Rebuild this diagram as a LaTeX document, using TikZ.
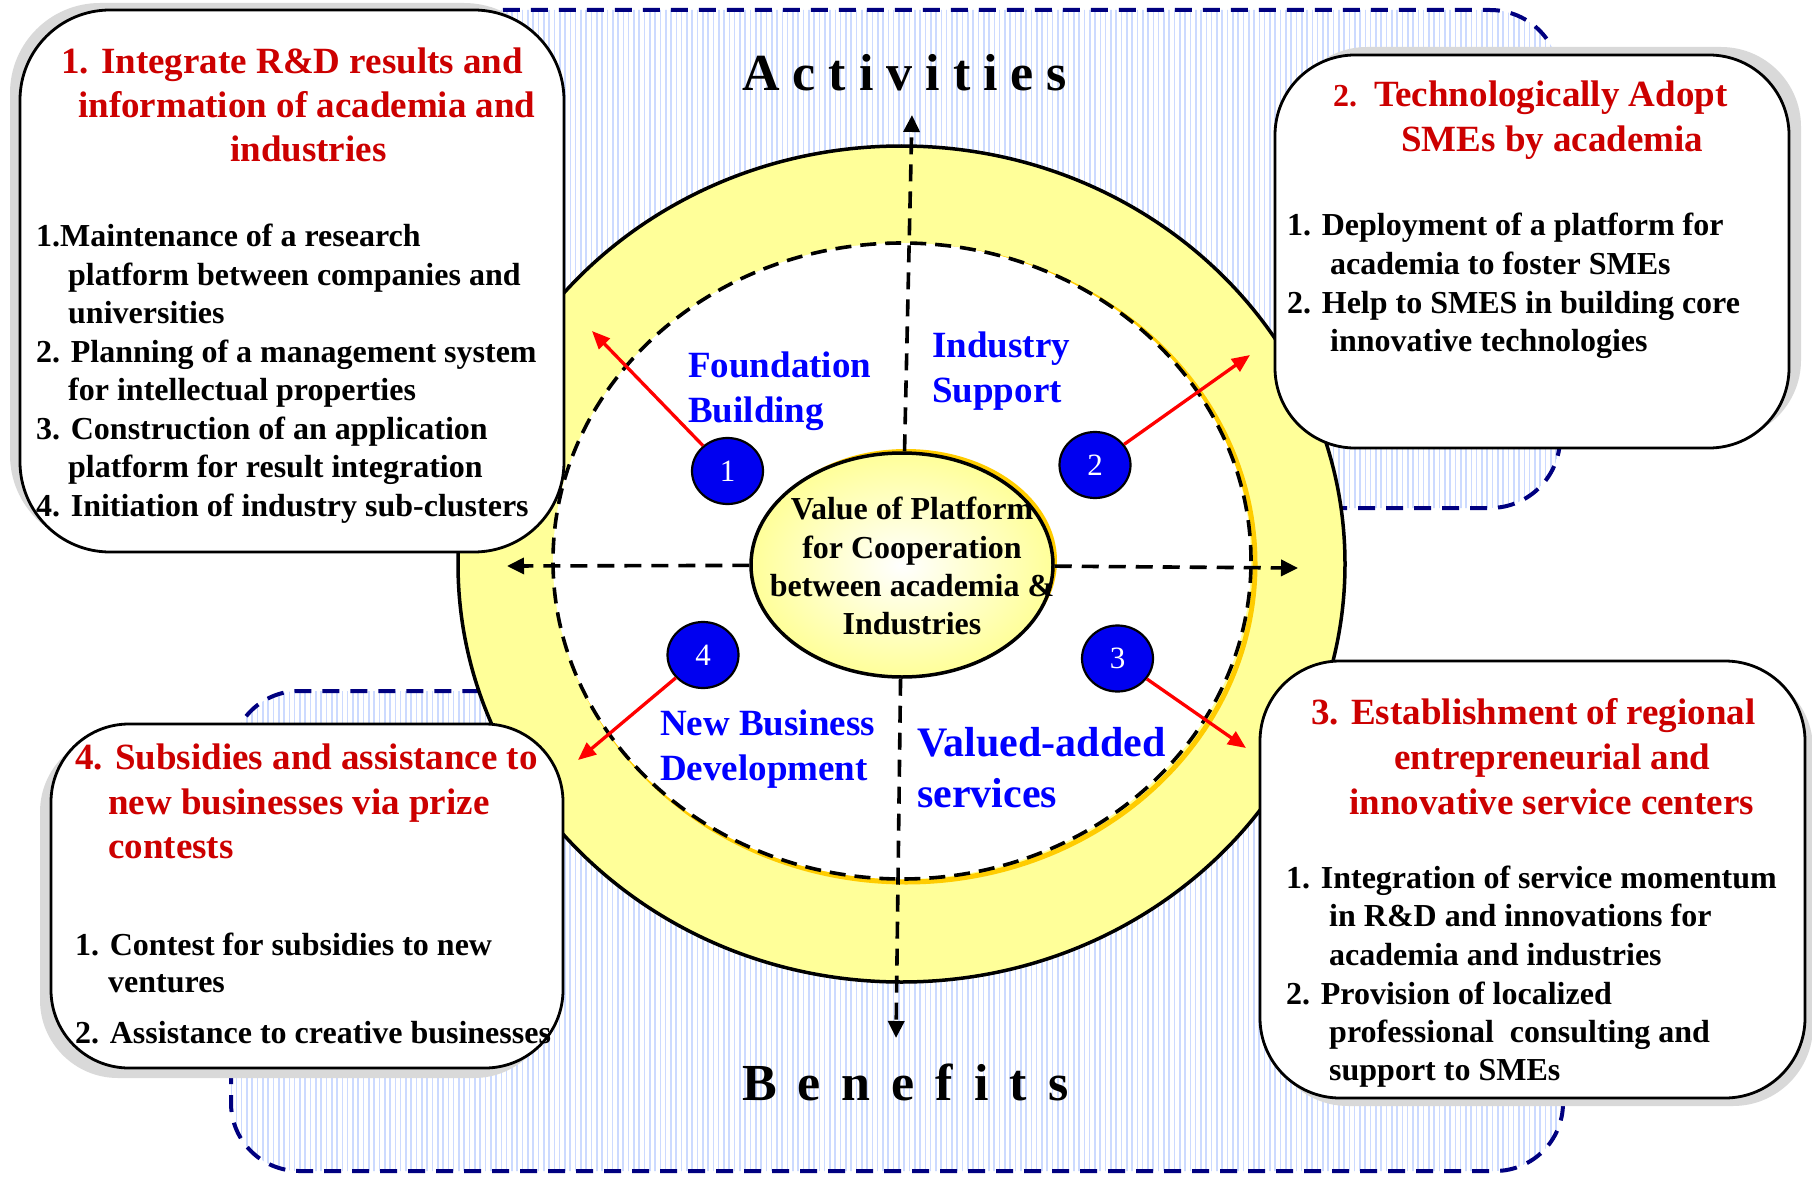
\documentclass[tikz,border=0pt]{standalone}
\usepackage{fontspec}
\setmainfont{Liberation Serif}
\usetikzlibrary{shapes.geometric,arrows.meta}
\definecolor{ringyellow}{RGB}{255,255,153}
\definecolor{goldc}{RGB}{255,204,0}
\definecolor{navyd}{RGB}{0,0,128}
\definecolor{stripec}{RGB}{204,218,255}
\definecolor{titlered}{RGB}{204,0,0}
\definecolor{lblblue}{RGB}{0,0,255}
\definecolor{numblue}{RGB}{0,0,240}
\definecolor{shadowgrey}{RGB}{217,217,217}
\begin{document}
\begin{tikzpicture}[x=1pt,y=-1pt,
  txt/.style={inner sep=0pt, anchor=base west},
  titlef/.style={txt, text=titlered, font=\fontsize{37}{44}\selectfont\bfseries},
  bodyf/.style={txt, font=\fontsize{32}{38.6}\selectfont\bfseries},
  lbl/.style={txt, text=lblblue, font=\fontsize{37}{44}\selectfont\bfseries},
  lblbig/.style={txt, text=lblblue, font=\fontsize{42}{50}\selectfont\bfseries},
  ctext/.style={inner sep=0pt, anchor=base, font=\fontsize{32}{38}\selectfont\bfseries},
  axtitle/.style={txt, font=\fontsize{52}{60}\selectfont\bfseries},
  box/.style={draw, line width=2.8pt, fill=white, inner sep=0pt},
  shadowbox/.style={fill=shadowgrey},
  navyline/.style={navyd, line width=4pt, dash pattern=on 17pt off 11pt},
  stripeline/.style={stripec, line width=1.6pt},
  numc/.style={ellipse, draw, line width=2.2pt, fill=numblue, minimum width=71pt, minimum height=66pt, inner sep=0pt, text=white, font=\fontsize{31}{31}\selectfont},
  redarr/.style={red, line width=3.3pt, -{Triangle[length=18pt,width=15pt]}},
  axisl/.style={black, line width=3.6pt, dash pattern=on 17pt off 10pt, -{Triangle[length=17pt,width=16pt]}}
]
\useasboundingbox (0,0) rectangle (1812,1177);
\fill[white] (0,0) rectangle (1812,1177);

% striped background regions
\begin{scope}
  \clip[rounded corners=70pt] (300,10) rectangle (1560,508);
  \foreach \k in {0,...,240} {\draw[stripeline] ({300+5.3*\k},0) -- ++(0,520);}
\end{scope}
\draw[navyline, rounded corners=70pt] (300,10) rectangle (1560,508);
\begin{scope}
  \clip[rounded corners=68pt] (231,691) rectangle (1563,1171);
  \foreach \k in {0,...,252} {\draw[stripeline] ({231+5.3*\k},680) -- ++(0,500);}
\end{scope}
\draw[navyline, rounded corners=68pt] (231,691) rectangle (1563,1171);

% outer ring
\node[ellipse, draw, line width=3.5pt, fill=ringyellow, minimum width=887pt, minimum height=836pt, inner sep=0pt] (ring) at (901.5,564) {};
% inner dashed circle with gold edge
\draw[goldc, line width=5pt] (906,564) ellipse [x radius=349, y radius=318];
\node[ellipse, fill=white, draw, line width=3.6pt, dash pattern=on 16pt off 9pt, minimum width=698pt, minimum height=636pt, inner sep=0pt] (inner) at (902,561) {};

% centre ellipse
\fill[goldc] (906,561) ellipse [x radius=151, y radius=112];
\node[ellipse, draw, line width=3.5pt, inner color=white, outer color=ringyellow, minimum width=302pt, minimum height=224pt, inner sep=0pt] (cv) at (902,565) {};

% axes
\coordinate (tN) at (912,115);
\coordinate (tS) at (896,1038);
\coordinate (tW) at (507,566);
\coordinate (tE) at (1298,568);
\draw[axisl] (cv) -- (tN);
\draw[axisl] (cv) -- (tS);
\draw[axisl] (cv) -- (tW);
\draw[axisl] (cv) -- (tE);

\node[ctext] (c1) at (912,519) {Value of Platform};
\node[ctext] (c2) at (912,558) {for Cooperation};
\node[ctext] (c3) at (912,596) {between academia \&};
\node[ctext] (c4) at (912,634) {Industries};

% boxes with shadows
\fill[shadowbox, rounded corners=90pt] (10,3) rectangle (554,545);
\node[box, rounded corners=90pt, minimum width=544pt, minimum height=542pt] (box1) at (292,281) {};
\fill[shadowbox, rounded corners=80pt] (1287,47) rectangle (1801,440);
\node[box, rounded corners=80pt, minimum width=514pt, minimum height=393pt] (box2) at (1532,251.5) {};
\fill[shadowbox, rounded corners=80pt] (1268,669) rectangle (1813,1106);
\node[box, rounded corners=80pt, minimum width=545pt, minimum height=437pt] (box3) at (1532.5,879.5) {};
\fill[shadowbox, rounded corners=78pt] (40,734) rectangle (552,1078);
\node[box, rounded corners=78pt, minimum width=512pt, minimum height=344pt] (box4) at (307,896) {};

% box 1 text
\node[titlef] (b1t1) at (61,74) {1. Integrate R\&D results and};
\node[titlef] (b1t2) at (78,118) {information of academia and};
\node[titlef] (b1t3) at (230,162) {industries};
\node[bodyf] (b1l1) at (36,246) {1.Maintenance of a research};
\node[bodyf] (b1l2) at (68,285) {platform between companies and};
\node[bodyf] (b1l3) at (68,323) {universities};
\node[bodyf] (b1l4) at (36,362) {2. Planning of a management system};
\node[bodyf] (b1l5) at (68,400) {for intellectual properties};
\node[bodyf] (b1l6) at (36,439) {3. Construction of an application};
\node[bodyf] (b1l7) at (68,477) {platform for result integration};
\node[bodyf] (b1l8) at (36,516) {4. Initiation of industry sub-clusters};

% box 2 text
\node[titlef, font=\fontsize{32}{40}\selectfont\bfseries] (b2t0) at (1333,107) {2.};
\node[titlef] (b2t1) at (1374,107) {Technologically Adopt};
\node[titlef] (b2t2) at (1401,152) {SMEs by academia};
\node[bodyf] (b2l1) at (1287,235) {1. Deployment of a platform for};
\node[bodyf] (b2l2) at (1330,274) {academia to foster SMEs};
\node[bodyf] (b2l3) at (1287,313) {2. Help to SMES in building core};
\node[bodyf] (b2l4) at (1330,351) {innovative technologies};

% box 3 text
\node[titlef] (b3t1) at (1311,724) {3. Establishment of regional};
\node[titlef] (b3t2) at (1394,769) {entrepreneurial and};
\node[titlef] (b3t3) at (1349,814) {innovative service centers};
\node[bodyf] (b3l1) at (1286,888) {1. Integration of service momentum};
\node[bodyf] (b3l2) at (1329,926) {in R\&D and innovations for};
\node[bodyf] (b3l3) at (1329,965) {academia and industries};
\node[bodyf] (b3l4) at (1286,1004) {2. Provision of localized};
\node[bodyf] (b3l5) at (1329,1042) {professional\ \ consulting and};
\node[bodyf] (b3l6) at (1329,1080) {support to SMEs};

% box 4 text
\node[titlef] (b4t1) at (75,769) {4. Subsidies and assistance to};
\node[titlef] (b4t2) at (108,814) {new businesses via prize};
\node[titlef] (b4t3) at (108,858) {contests};
\node[bodyf] (b4l1) at (75,955) {1. Contest for subsidies to new};
\node[bodyf] (b4l2) at (108,992) {ventures};
\node[bodyf] (b4l3) at (75,1043) {2. Assistance to creative businesses};

% quadrant labels
\node[lbl] (lf1) at (688,377) {Foundation};
\node[lbl] (lf2) at (688,422) {Building};
\node[lbl] (li1) at (932,357) {Industry};
\node[lbl] (li2) at (932,402) {Support};
\node[lbl] (ln1) at (660,735) {New Business};
\node[lbl] (ln2) at (660,780) {Development};
\node[lblbig] (lv1) at (917,756) {Valued-added};
\node[lblbig] (lv2) at (917,807) {services};

% numbered circles and red arrows
\node[numc] (n1) at (727.5,471) {1};
\node[numc] (n2) at (1095,465) {2};
\node[numc] (n3) at (1117.5,658.5) {3};
\node[numc] (n4) at (703,655) {4};
\coordinate (a1) at (592,331);
\coordinate (a2) at (1250,355);
\coordinate (a3) at (1246,748);
\coordinate (a4) at (578,760);
\draw[redarr] (n1) -- (a1);
\draw[redarr] (n2) -- (a2);
\draw[redarr] (n3) -- (a3);
\draw[redarr] (n4) -- (a4);

% axis titles
\node[axtitle] (act) at (742,91) {A\hspace{13pt}c\hspace{13pt}t\hspace{13pt}i\hspace{13pt}v\hspace{13pt}i\hspace{13pt}t\hspace{13pt}i\hspace{13pt}e\hspace{13pt}s};
\node[axtitle] (ben) at (742,1100) {B\hspace{21pt}e\hspace{21pt}n\hspace{21pt}e\hspace{21pt}f\hspace{21pt}i\hspace{21pt}t\hspace{21pt}s};
\end{tikzpicture}
\end{document}
